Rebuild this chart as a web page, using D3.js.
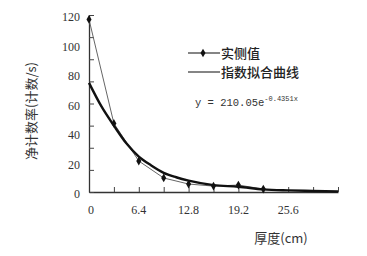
<!DOCTYPE html>
<html>
<head>
<meta charset="utf-8">
<script src="https://cdn.jsdelivr.net/npm/d3@7"></script>
<style>
  body { margin: 0; background: #fff; }
  svg { display: block; }
</style>
</head>
<body>
<script>
// Measured values (thickness in cm, net count rate)
const measX = [0, 3.2, 6.4, 9.6, 12.8, 16, 19.2, 22.4]
const measY = [117, 46.5, 21, 9.5, 5.4, 4, 4.7, 2]

// Exponential fit curve
const fitX = [0, 1.6, 3.2, 4.8, 6.4, 8, 9.6, 11.2, 12.8, 16, 19.2, 22.4, 25.6, 28.8, 32]
const fitY = [74, 58, 45, 33, 24, 18, 13, 10, 7.7, 4.7, 3.6, 1.8, 1.1, 0.7, 0.3]

const xTicks = [0, 3.2, 6.4, 9.6, 12.8, 16, 19.2, 22.4, 25.6, 28.8, 32]
const xLabels = [0, 6.4, 12.8, 19.2, 25.6]
const yTicks = [0, 15, 30, 45, 60, 75, 90, 105, 120]
const yLabels = [0, 20, 40, 60, 80, 100, 120]

const width = 367, height = 256
const margin = {left: 89, right: 29, top: 15, bottom: 64}
const w = width - margin.left - margin.right
const h = height - margin.top - margin.bottom

const svg = d3.select('body').append('svg')
  .attr('width', width)
  .attr('height', height)

const xScale = d3.scaleLinear().domain([0, 32]).range([0, w])
const yScale = d3.scaleLinear().domain([0, 120]).range([h, 0])

const g = svg.append('g')
  .attr('transform', `translate(${margin.left},${margin.top})`)

const serif = '"Liberation Serif", "DejaVu Serif", serif'
const cjk = '"Noto Sans CJK SC", sans-serif'

// Axes: inward ticks, labels placed separately
g.append('g')
  .attr('transform', `translate(0,${h})`)
  .call(d3.axisBottom(xScale).tickValues(xTicks).tickSize(-5).tickFormat('').tickSizeOuter(0))
g.append('g')
  .call(d3.axisLeft(yScale).tickValues(yTicks).tickSize(-5).tickFormat('').tickSizeOuter(0))
svg.selectAll('.domain').attr('stroke', '#333').attr('stroke-width', 1.3)
svg.selectAll('.tick line').attr('stroke', '#444').attr('stroke-width', 1)

g.selectAll('.xlab')
  .data(xLabels)
  .join('text')
  .attr('class', 'xlab')
  .attr('x', d => xScale(d) + (d === 0 ? 2 : 0))
  .attr('y', h + 22)
  .attr('text-anchor', 'middle')
  .style('font-family', serif)
  .style('font-size', '12px')
  .style('fill', '#333')
  .text(d => d)

g.selectAll('.ylab')
  .data(yLabels)
  .join('text')
  .attr('class', 'ylab')
  .attr('x', -9)
  .attr('y', d => yScale(d) + 6)
  .attr('text-anchor', 'end')
  .style('font-family', serif)
  .style('font-size', '12px')
  .style('fill', '#333')
  .text(d => d)

// Axis titles
svg.append('text')
  .attr('transform', `translate(36,111) rotate(-90)`)
  .attr('text-anchor', 'middle')
  .style('font-family', cjk)
  .style('font-size', '13px')
  .style('fill', '#333')
  .text('净计数率(计数/s)')

svg.append('text')
  .attr('x', 281)
  .attr('y', 243)
  .attr('text-anchor', 'middle')
  .style('font-family', cjk)
  .style('font-size', '13px')
  .style('fill', '#333')
  .text('厚度(cm)')

// Lines
const line = d3.line()
  .x(d => xScale(d[0]))
  .y(d => yScale(d[1]))

const measData = measX.map((x, i) => [x, measY[i]])
const fitData = fitX.map((x, i) => [x, fitY[i]])

g.append('path')
  .attr('d', line(measData))
  .attr('fill', 'none')
  .attr('stroke', '#666')
  .attr('stroke-width', 1)

g.append('path')
  .attr('d', line.curve(d3.curveMonotoneX)(fitData))
  .attr('fill', 'none')
  .attr('stroke', '#111')
  .attr('stroke-width', 2.4)

const diamond = d3.symbol().type(d3.symbolDiamond).size(22)
g.selectAll('.pt')
  .data(measData)
  .join('path')
  .attr('class', 'pt')
  .attr('d', diamond)
  .attr('transform', d => `translate(${xScale(d[0])},${yScale(d[1])})`)
  .attr('fill', '#111')

// Legend
const leg = svg.append('g')
leg.append('line')
  .attr('x1', 188).attr('x2', 220).attr('y1', 53).attr('y2', 53)
  .attr('stroke', '#333').attr('stroke-width', 1.2)
leg.append('path')
  .attr('d', diamond)
  .attr('transform', 'translate(203,53)')
  .attr('fill', '#111')
leg.append('text')
  .attr('x', 221).attr('y', 57.5)
  .style('font-family', cjk)
  .style('font-size', '13px')
  .style('font-weight', 500)
  .style('fill', '#222')
  .text('实侧值')
leg.append('line')
  .attr('x1', 188).attr('x2', 220).attr('y1', 72).attr('y2', 72)
  .attr('stroke', '#333').attr('stroke-width', 1.2)
leg.append('text')
  .attr('x', 221).attr('y', 77)
  .style('font-family', cjk)
  .style('font-size', '13px')
  .style('font-weight', 500)
  .style('fill', '#222')
  .text('指数拟合曲线')

// Fit equation
const eq = svg.append('text')
  .attr('x', 195).attr('y', 106)
  .style('font-family', '"Liberation Mono", "DejaVu Sans Mono", monospace')
  .style('font-size', '10.5px')
  .style('fill', '#333')
eq.append('tspan').text('y = 210.05e')
eq.append('tspan')
  .attr('dy', -5)
  .style('font-size', '7px')
  .text('-0.4351x')
</script>
</body>
</html>
